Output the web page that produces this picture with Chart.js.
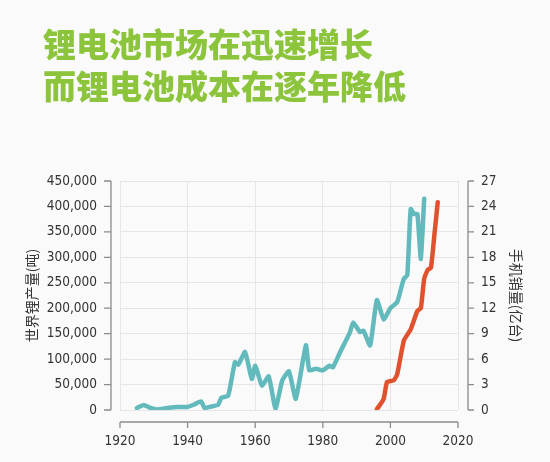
<!DOCTYPE html>
<html>
<head>
<meta charset="utf-8">
<script src="https://cdn.jsdelivr.net/npm/chart.js@4"></script>
<style>
html,body{margin:0;padding:0;background:#fafafa;}
#wrap{position:relative;width:550px;height:462px;}
#title{position:absolute;left:43px;top:22px;margin:0;font-family:'Noto Sans CJK SC',sans-serif;font-weight:900;font-size:33px;line-height:42px;color:#8cc43c;white-space:nowrap;}
canvas{position:absolute;left:0;top:0;}
</style>
</head>
<body>
<div id="wrap">
<canvas id="c" width="550" height="462"></canvas>
<h1 id="title"></h1>
</div>
<script>
// ---- data ----
const titleLines = ['锂电池市场在迅速增长', '而锂电池成本在逐年降低'];
const leftAxisTitle = '世界锂产量(吨)';
const rightAxisTitle = '手机销量(亿台)';

const lithiumYears = [1925,1927,1929,1931,1934,1937,1940,1942,1944,1945,1947,1949,1950,1952,1954,1955,1957,1959,1960,1962,1964,1966,1968,1970,1972,1975,1976,1978,1980,1982,1983,1985,1988,1989,1991,1992,1994,1996,1998,2000,2002,2003,2004,2005,2006,2007,2008,2009,2010];
const lithiumTons = [4000,10000,4000,1000,4000,6000,6000,11000,17000,4000,7000,10000,24000,28000,94000,89000,114000,61000,87000,48000,66000,3000,58000,76000,22000,127000,78000,81000,78000,87000,84000,112000,152000,172000,153000,156000,127000,216000,178000,200000,212000,235000,258000,265000,395000,385000,385000,297000,415000];

const phoneYears = [1996,1998,1999,2001,2002,2004,2006,2008,2009,2010,2011,2012,2013,2014];
const phoneSales = [0.1,1.3,3.3,3.5,4.2,8.2,9.5,11.7,12.0,15.5,16.5,16.8,20.6,24.5];

const xTicks = [1920,1940,1960,1980,2000,2020];
const leftTicks = [0,50000,100000,150000,200000,250000,300000,350000,400000,450000];
const rightTicks = [0,3,6,9,12,15,18,21,24,27];

document.getElementById('title').innerHTML = titleLines.join('<br>');

const tickFont = {family:"'DejaVu Sans Condensed','Liberation Sans Narrow',sans-serif", size:13.5};
const axisColor = '#8c8c8c';

const offsetAxes = {
  id:'offsetAxes',
  afterDraw(chart){
    const {ctx, chartArea:ca, scales} = chart;
    const x = scales.x, y = scales.y, y1 = scales.y1;
    ctx.save();
    ctx.strokeStyle = axisColor;
    ctx.lineWidth = 1.3;
    const lx = ca.left - 9;
    ctx.beginPath();
    ctx.moveTo(lx, y.getPixelForValue(leftTicks[leftTicks.length-1]));
    ctx.lineTo(lx, y.getPixelForValue(leftTicks[0]));
    leftTicks.forEach(v => { const p = y.getPixelForValue(v); ctx.moveTo(lx-7, p); ctx.lineTo(lx, p); });
    ctx.stroke();
    const rx = ca.right + 10;
    ctx.beginPath();
    ctx.moveTo(rx, y1.getPixelForValue(rightTicks[rightTicks.length-1]));
    ctx.lineTo(rx, y1.getPixelForValue(rightTicks[0]));
    rightTicks.forEach(v => { const p = y1.getPixelForValue(v); ctx.moveTo(rx, p); ctx.lineTo(rx+6, p); });
    ctx.stroke();
    const by = ca.bottom + 12;
    ctx.beginPath();
    ctx.moveTo(x.getPixelForValue(xTicks[0]), by);
    ctx.lineTo(x.getPixelForValue(xTicks[xTicks.length-1]), by);
    xTicks.forEach(v => { const p = x.getPixelForValue(v); ctx.moveTo(p, by); ctx.lineTo(p, by+6); });
    ctx.stroke();
    ctx.restore();
  }
};

new Chart(document.getElementById('c'), {
  type:'line',
  data:{
    datasets:[
      {
        label:'世界锂产量',
        data: lithiumYears.map((yr,i)=>({x:yr, y:lithiumTons[i]})),
        borderColor:'#62babd',
        borderWidth:4.5,
        pointRadius:0,
        tension:0.15,
        borderJoinStyle:'round',
        borderCapStyle:'round',
        yAxisID:'y'
      },
      {
        label:'手机销量',
        data: phoneYears.map((yr,i)=>({x:yr, y:phoneSales[i]})),
        borderColor:'#e0522e',
        borderWidth:4.5,
        pointRadius:0,
        tension:0.15,
        borderJoinStyle:'round',
        borderCapStyle:'round',
        yAxisID:'y1'
      }
    ]
  },
  options:{
    responsive:false,
    animation:false,
    layout:{padding:{left:22, right:22, top:181, bottom:14}},
    plugins:{
      legend:{display:false},
      tooltip:{enabled:false},
      title:{display:false}
    },
    scales:{
      x:{
        type:'linear', min:1920, max:2020,
        afterBuildTicks: s => { s.ticks = xTicks.map(v=>({value:v})); },
        afterFit: s => { s.height = 38; },
        ticks:{callback:v=>String(v), color:'#333', font:tickFont, padding:23, maxRotation:0, autoSkip:false},
        grid:{color:'#e6e6e6', drawTicks:false, lineWidth:1},
        border:{display:false}
      },
      y:{
        position:'left', min:0, max:450000,
        afterBuildTicks: s => { s.ticks = leftTicks.map(v=>({value:v})); },
        afterFit: s => { s.width = 98; },
        ticks:{callback:v=>v.toLocaleString('en-US'), color:'#333', font:tickFont, padding:23, autoSkip:false},
        grid:{color:'#e6e6e6', drawTicks:false, lineWidth:1},
        border:{display:false},
        title:{display:true, text:leftAxisTitle, color:'#333', font:{family:"'Noto Sans CJK SC',sans-serif", size:14}, padding:{top:1,bottom:4}}
      },
      y1:{
        position:'right', min:0, max:27,
        afterBuildTicks: s => { s.ticks = rightTicks.map(v=>({value:v})); },
        afterFit: s => { s.width = 70; },
        ticks:{callback:v=>String(v), color:'#333', font:tickFont, padding:23, autoSkip:false},
        grid:{drawOnChartArea:false, drawTicks:false},
        border:{display:false},
        title:{display:true, text:rightAxisTitle, color:'#333', font:{family:"'Noto Sans CJK SC',sans-serif", size:14}, padding:{top:3,bottom:4}}
      }
    }
  },
  plugins:[offsetAxes]
});
</script>
</body>
</html>
